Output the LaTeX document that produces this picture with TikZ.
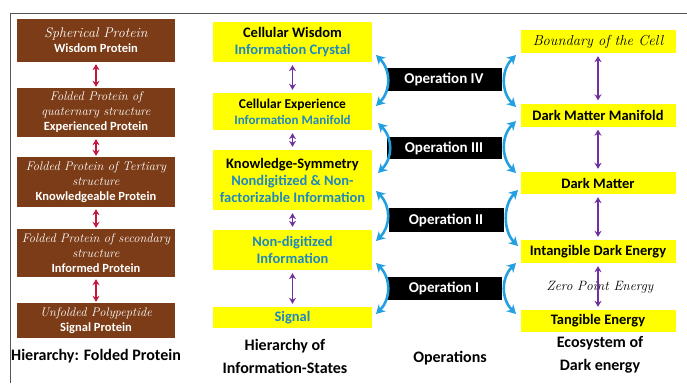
\documentclass[tikz,border=0pt]{standalone}
\usepackage{fontspec}
\setsansfont{Carlito}
\usetikzlibrary{arrows.meta}
\definecolor{protfill}{HTML}{7B3C17}
\definecolor{infofill}{HTML}{FFFF00}
\definecolor{infotext}{HTML}{2088C0}
\definecolor{protarrow}{HTML}{C4163C}
\definecolor{infoarrow}{HTML}{7030A0}
\definecolor{oparrow}{HTML}{23A0E0}
\definecolor{framegray}{HTML}{555555}
\newcommand\fancycap[1]{{\rmfamily\mdseries\itshape #1}}
\newcommand\bluetxt[1]{\textcolor{infotext}{#1}}

\begin{document}
\begin{tikzpicture}[x=1pt, y=-1pt,
  prot/.style={rectangle, fill=protfill, text=white, minimum width=158pt,
               align=center, inner sep=0pt, font=\fontsize{12.5}{15}\selectfont\sffamily\bfseries},
  info/.style={rectangle, fill=infofill, minimum width=159pt, align=center,
               inner sep=0pt, font=\fontsize{14.5}{17}\selectfont\sffamily\bfseries},
  eco/.style={rectangle, fill=infofill, minimum width=155pt, minimum height=23pt,
              align=center, inner sep=0pt, font=\fontsize{14.5}{17}\selectfont\sffamily\bfseries},
  opbox/.style={rectangle, fill=black, text=white, minimum width=115pt, minimum height=23pt,
                inner sep=0pt, font=\fontsize{15}{17}\selectfont\sffamily\bfseries},
  title/.style={align=center, font=\fontsize{16}{23}\selectfont\sffamily\bfseries},
  protlink/.style={draw=protarrow, line width=1.6pt, {Stealth[length=6pt,width=7pt]}-{Stealth[length=6pt,width=7pt]}, shorten <=2pt, shorten >=1pt},
  infolink/.style={draw=infoarrow, line width=1.4pt, {Stealth[length=6pt,width=7pt]}-{Stealth[length=6pt,width=7pt]}, shorten <=3pt, shorten >=3pt},
  oplink/.style={draw=oparrow, line width=2.6pt, {Stealth[length=9pt,width=10pt]}-{Stealth[length=9pt,width=10pt]}},
]
\useasboundingbox (0,0) rectangle (687,383);
% ---- frame
\draw[framegray, line width=0.8pt] (10,383) -- (10,13) -- (687,13);
% ---- folded protein hierarchy (brown)
\node[prot, minimum height=43pt] (wisdom) at (96,40.5) {\fancycap{\fontsize{14}{18}\selectfont Spherical Protein}\\Wisdom Protein};
\node[prot, minimum height=49pt] (experienced) at (96,112.5) {\fancycap{Folded Protein of}\\\fancycap{quaternary structure}\\Experienced Protein};
\node[prot, minimum height=50pt] (knowledgeable) at (96,182) {\fancycap{Folded Protein of Tertiary}\\\fancycap{structure}\\Knowledgeable Protein};
\node[prot, minimum height=48pt] (informed) at (96,253) {\fancycap{Folded Protein of secondary}\\\fancycap{structure}\\Informed Protein};
\node[prot, minimum height=35pt] (signalprot) at (96,320.5) {\fancycap{Unfolded Polypeptide}\\Signal Protein};
\draw[protlink] (wisdom) -- (experienced);
\draw[protlink] (experienced) -- (knowledgeable);
\draw[protlink] (knowledgeable) -- (informed);
\draw[protlink] (informed) -- (signalprot);
\node[title] (prottitle) at (96,356) {Hierarchy: Folded Protein};
% ---- information states (yellow, middle)
\node[info, minimum height=40pt] (crystal) at (292.5,42) {Cellular Wisdom\\\bluetxt{Information Crystal}};
\node[info, minimum height=37pt, font=\fontsize{13.5}{16}\selectfont\sffamily\bfseries] (manifold) at (292.5,111.5) {Cellular Experience\\\bluetxt{\fontsize{13}{16}\selectfont Information Manifold}};
\node[info, minimum height=60pt] (symmetry) at (292.5,180) {Knowledge-Symmetry\\\bluetxt{Nondigitized \& Non-}\\\bluetxt{factorizable Information}};
\node[info, minimum height=40pt] (nondigit) at (292.5,250) {\bluetxt{Non-digitized}\\\bluetxt{Information}};
\node[info, minimum height=21pt] (signal) at (292.5,317.5) {\bluetxt{Signal}};
\draw[infolink] (crystal) -- (manifold);
\draw[infolink] (manifold) -- (symmetry);
\draw[infolink] (symmetry) -- (nondigit);
\draw[infolink] (nondigit) -- (signal);
\node[title] (infotitle) at (285,356) {Hierarchy of\\Information-States};
% ---- dark energy ecosystem (yellow, right)
\node[eco] (boundary) at (598,41.5) {\fancycap{Boundary of the Cell}};
\node[eco] (dmmanifold) at (598,115) {Dark Matter Manifold};
\node[eco, minimum height=22pt] (darkmatter) at (598,183) {Dark Matter};
\node[eco] (intangible) at (598,251.5) {Intangible Dark Energy};
\node[font=\fontsize{13.5}{16}\selectfont] (zeropoint) at (600,287) {\fancycap{Zero Point Energy}};
\node[eco, minimum height=22pt] (tangible) at (598,321) {Tangible Energy};
\draw[infolink] (boundary) -- (dmmanifold);
\draw[infolink] (dmmanifold) -- (darkmatter);
\draw[infolink] (darkmatter) -- (intangible);
\draw[infolink] (intangible) -- (tangible);
\node[title] (ecotitle) at (600,355) {Ecosystem of\\Dark energy};
% ---- operations (black) with bracket arrows
\node[opbox] (op4) at (444,79.5) {Operation IV};
\node[opbox, minimum height=22pt] (op3) at (444,148) {Operation III};
\node[opbox, minimum height=24pt] (op2) at (446,220) {Operation II};
\node[opbox] (op1) at (444,288.5) {Operation I};
\node[title] (optitle) at (450,358) {Operations};
\coordinate (op4lt) at (376,55);  \coordinate (op4lb) at (376,106);
\coordinate (op4rt) at (516,55);  \coordinate (op4rb) at (516,107);
\coordinate (op3lt) at (378,123); \coordinate (op3lb) at (378,173);
\coordinate (op3rt) at (516,121); \coordinate (op3rb) at (516,173);
\coordinate (op2lt) at (376,191); \coordinate (op2lb) at (376,241);
\coordinate (op2rt) at (518,190); \coordinate (op2rb) at (518,246);
\coordinate (op1lt) at (376,263); \coordinate (op1lb) at (376,314);
\coordinate (op1rt) at (516,263); \coordinate (op1rb) at (516,314);
\draw[oplink] (op4lt) .. controls +(15,15) and +(15,-15) .. (op4lb);
\draw[oplink] (op4rt) .. controls +(-15,15) and +(-15,-15) .. (op4rb);
\draw[oplink] (op3lt) .. controls +(15,15) and +(15,-15) .. (op3lb);
\draw[oplink] (op3rt) .. controls +(-15,15) and +(-15,-15) .. (op3rb);
\draw[oplink] (op2lt) .. controls +(15,15) and +(15,-15) .. (op2lb);
\draw[oplink] (op2rt) .. controls +(-15,15) and +(-15,-15) .. (op2rb);
\draw[oplink] (op1lt) .. controls +(15,15) and +(15,-15) .. (op1lb);
\draw[oplink] (op1rt) .. controls +(-15,15) and +(-15,-15) .. (op1rb);
\end{tikzpicture}
\end{document}
